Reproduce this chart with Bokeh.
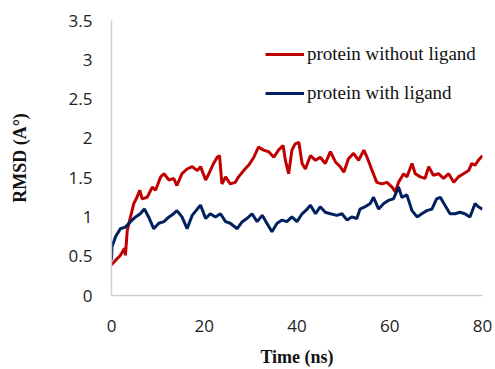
from bokeh.plotting import figure
from bokeh.models import Range1d, FixedTicker, Legend, LegendItem
from bokeh.embed import file_html
from bokeh.resources import INLINE

# Time (ns) and RMSD values
t_red = [0, 0.9, 1.9, 2.8, 3.0, 3.4, 4.1, 4.8, 5.5, 6.1, 6.6, 7.7, 8.8, 9.5, 10.6, 11.3,
         12.4, 13.4, 14.1, 15.2, 16.3, 17.4, 18.5, 19.2, 20.3, 21.0, 22.0, 22.8, 23.3,
         23.8, 24.6, 25.6, 26.7, 27.4, 28.5, 29.6, 30.7, 31.7, 32.8, 33.9, 35.0, 36.0,
         37.0, 37.5, 38.2, 38.9, 39.6, 40.4, 41.1, 41.8, 42.9, 44.0, 45.0, 46.1, 47.2,
         48.3, 49.3, 50.1, 51.1, 52.2, 53.3, 54.4, 55.1, 56.2, 57.2, 58.3, 59.4, 60.5,
         61.2, 61.9, 63.0, 63.7, 64.8, 65.5, 66.6, 67.6, 68.4, 69.4, 70.5, 71.6, 72.7,
         73.8, 74.8, 75.9, 77.0, 77.7, 78.4, 79.1, 80.0]
rmsd_red = [0.39, 0.45, 0.51, 0.60, 0.51, 0.83, 1.00, 1.17, 1.25, 1.34, 1.23, 1.25, 1.38,
            1.34, 1.51, 1.55, 1.47, 1.49, 1.40, 1.55, 1.61, 1.64, 1.59, 1.64, 1.47, 1.55,
            1.68, 1.76, 1.78, 1.42, 1.51, 1.42, 1.44, 1.51, 1.59, 1.66, 1.76, 1.89, 1.85,
            1.83, 1.76, 1.85, 1.91, 1.72, 1.55, 1.85, 1.93, 1.95, 1.68, 1.61, 1.78, 1.72,
            1.76, 1.68, 1.83, 1.70, 1.64, 1.57, 1.74, 1.81, 1.72, 1.85, 1.76, 1.59, 1.44,
            1.42, 1.44, 1.38, 1.32, 1.44, 1.55, 1.51, 1.68, 1.55, 1.51, 1.49, 1.64, 1.53,
            1.55, 1.49, 1.55, 1.44, 1.51, 1.55, 1.59, 1.68, 1.66, 1.72, 1.78]

t_blue = [0, 0.1, 0.9, 1.9, 3.0, 4.1, 5.2, 6.2, 7.1, 8.0, 9.1, 10.2, 11.3, 12.4, 13.4,
          14.1, 15.2, 16.3, 17.4, 18.5, 19.2, 20.3, 21.3, 22.4, 23.5, 24.6, 25.6, 27.1,
          28.2, 29.2, 30.3, 31.4, 32.5, 33.5, 34.6, 35.7, 36.8, 37.8, 38.9, 40.0, 41.1,
          42.2, 42.9, 44.0, 45.0, 46.1, 47.2, 48.6, 49.7, 50.8, 51.8, 52.9, 53.6, 54.7,
          55.8, 56.5, 57.6, 58.7, 59.7, 60.8, 61.9, 62.6, 63.7, 64.8, 65.9, 66.9, 68.0,
          69.1, 70.1, 70.9, 71.9, 73.0, 74.1, 75.1, 76.2, 77.3, 78.4, 79.1, 80.0]
rmsd_blue = [0.45, 0.62, 0.75, 0.85, 0.87, 0.94, 1.00, 1.04, 1.10, 1.00, 0.85, 0.92, 0.94,
             1.00, 1.04, 1.08, 1.00, 0.85, 1.02, 1.10, 1.15, 0.98, 1.04, 1.00, 1.04, 0.94,
             0.92, 0.85, 0.94, 0.98, 1.04, 0.94, 1.02, 0.92, 0.81, 0.92, 0.96, 0.94, 1.00,
             0.94, 1.04, 1.10, 1.15, 1.04, 1.13, 1.06, 1.04, 1.02, 1.04, 0.96, 1.00, 0.98,
             1.10, 1.13, 1.17, 1.25, 1.10, 1.17, 1.21, 1.23, 1.38, 1.25, 1.28, 1.08, 1.00,
             1.04, 1.08, 1.10, 1.23, 1.25, 1.15, 1.04, 1.04, 1.06, 1.04, 1.00, 1.17, 1.13,
             1.10]

x_ticks = [0, 20, 40, 60, 80]
y_ticks = [0, 0.5, 1, 1.5, 2, 2.5, 3, 3.5]
label_red = "protein without ligand"
label_blue = "protein with ligand"

p = figure(width=495, height=369, output_backend="svg", toolbar_location=None,
           x_range=Range1d(0, 80), y_range=Range1d(0, 3.5),
           min_border_left=111, min_border_right=13, min_border_top=20,
           min_border_bottom=74)
p.outline_line_color = None
p.xgrid.grid_line_color = None
p.ygrid.grid_line_color = None

r1 = p.line(t_red, rmsd_red, line_color="#c00000", line_width=3)
r2 = p.line(t_blue, rmsd_blue, line_color="#002060", line_width=3)

for ax in (p.xaxis[0], p.yaxis[0]):
    ax.axis_line_color = "#d0d0d0"
    ax.axis_line_width = 1.5
    ax.major_tick_line_color = None
    ax.minor_tick_line_color = None
    ax.major_label_text_font = "Open Sans"
    ax.major_label_text_font_size = "17px"
    ax.major_label_text_color = "#222222"
    ax.axis_label_text_font = "Liberation Serif"
    ax.axis_label_text_font_style = "bold"
    ax.axis_label_text_font_size = "18px"
    ax.axis_label_text_color = "#111111"

p.xaxis.ticker = FixedTicker(ticks=x_ticks)
p.yaxis.ticker = FixedTicker(ticks=y_ticks)
p.xaxis.axis_label = "Time (ns)"
p.yaxis.axis_label = "RMSD (A°)"
p.xaxis.major_label_standoff = 18
p.yaxis.major_label_standoff = 13
p.xaxis.axis_label_standoff = 12
p.yaxis.axis_label_standoff = 36

legend = Legend(items=[LegendItem(label=label_red, renderers=[r1]),
                       LegendItem(label=label_blue, renderers=[r2])],
                location=(154, 191), glyph_width=39, glyph_height=20,
                label_height=20, label_standoff=3, spacing=17, padding=0,
                margin=0, border_line_color=None, background_fill_alpha=0,
                label_text_font="Liberation Serif", label_text_font_size="19px",
                label_text_color="#111111")
p.add_layout(legend)

open("out.html", "w").write(file_html(p, INLINE))
